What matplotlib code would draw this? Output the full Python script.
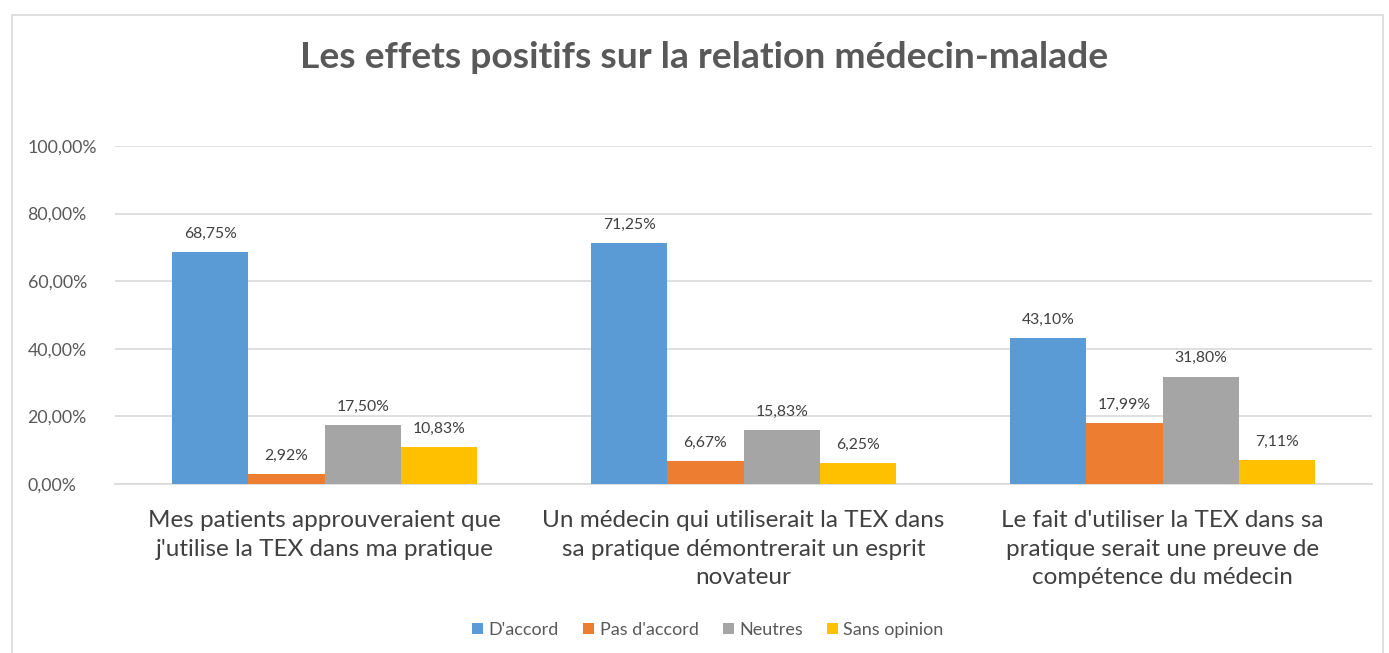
import numpy as np
import matplotlib
matplotlib.use('Agg')
import matplotlib.pyplot as plt
from matplotlib.patches import Rectangle

plt.rcParams['font.family'] = ['Lato', 'DejaVu Sans']

# data
categories = ["Mes patients approuveraient que\nj'utilise la TEX dans ma pratique",
              "Un médecin qui utiliserait la TEX dans\nsa pratique démontrerait un esprit\nnovateur",
              "Le fait d'utiliser la TEX dans sa\npratique serait une preuve de\ncompétence du médecin"]
series_names = ["D'accord", "Pas d'accord", "Neutres", "Sans opinion"]
daccord = [68.75, 71.25, 43.10]
pas_daccord = [2.92, 6.67, 17.99]
neutres = [17.50, 15.83, 31.80]
sans_opinion = [10.83, 6.25, 7.11]
colors = ['#5b9bd5', '#ed7d31', '#a5a5a5', '#ffc000']
yticks = [0, 20, 40, 60, 80, 100]

def fr(v):
    return ('%.2f' % v).replace('.', ',') + '%'

fig = plt.figure(figsize=(13.89, 6.53), dpi=100)
# chart border
fig.patches.append(Rectangle((12/1389, -0.05), 1371/1389, 1.05 - 15/653, transform=fig.transFigure,
                             fill=False, edgecolor='#d9d9d9', linewidth=1.2))
ax = fig.add_axes([115/1389, 1 - 484/653, 1257/1389, 338/653])

x = np.arange(len(categories))
w = 0.182
for i, (vals, name) in enumerate(zip([daccord, pas_daccord, neutres, sans_opinion], series_names)):
    pos = x + (i - 1.5) * w
    bars = ax.bar(pos, vals, w, color=colors[i], label=name, zorder=3)
    for xp, v in zip(pos, vals):
        ax.text(xp, v + 3.3, fr(v), ha='center', va='bottom', fontsize=11.3, color='#404040')

ax.set_xlim(-0.5, 2.5)
ax.set_ylim(0, 100)
ax.set_yticks(yticks)
ax.set_yticklabels([fr(v) for v in yticks], fontsize=12.8, color='#595959')
ax.set_xticks(x)
ax.set_xticklabels(categories, fontsize=17.5, color='#404040', va='top', linespacing=1.44)
ax.tick_params(axis='x', length=0, pad=19)
ax.tick_params(axis='y', length=0, pad=63)
for lab in ax.get_yticklabels():
    lab.set_horizontalalignment('left')
ax.grid(axis='y', color='#d9d9d9', linewidth=1.2, zorder=0)
for s in ['top', 'right', 'left']:
    ax.spines[s].set_visible(False)
ax.spines['bottom'].set_color('#d9d9d9')
ax.spines['bottom'].set_linewidth(1.2)

fig.text(704/1389, 1 - 58/653, 'Les effets positifs sur la relation médecin-malade',
         ha='center', va='center', fontsize=26.8, fontweight='bold', color='#595959')

fig.legend(loc='center', bbox_to_anchor=(708/1389, 1 - 630/653), ncol=4, frameon=False,
           fontsize=13, handlelength=0.6, handleheight=0.6, handletextpad=0.3,
           columnspacing=1.35, labelcolor='#595959')

fig.savefig('out.png', dpi=100)
